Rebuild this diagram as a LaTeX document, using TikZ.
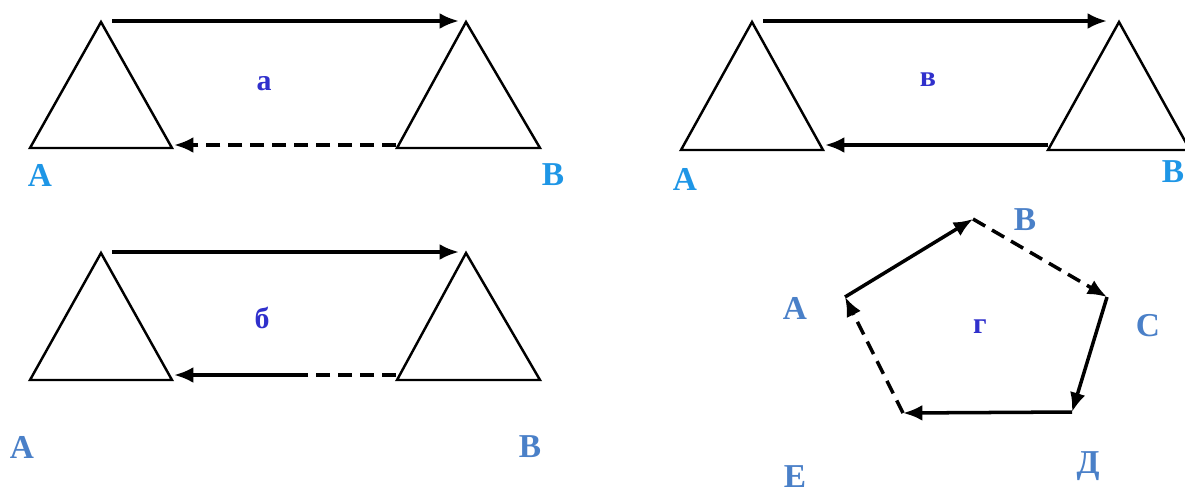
\documentclass[tikz,border=0pt]{standalone}
\usepackage{fontspec}
\setmainfont{Liberation Serif}
\usetikzlibrary{arrows.meta}
\definecolor{skyblue}{HTML}{1E96E6}
\definecolor{steelblue}{HTML}{4A80C8}
\definecolor{centerblue}{HTML}{3030CC}
\tikzset{
  tri/.style={line width=1.4pt, line join=miter},
  vec/.style={line width=2pt, -{Latex[length=11pt,width=9pt]}},
  dvec/.style={vec, dash pattern=on 8pt off 4.5pt},
  lbl/.style={font=\bfseries\fontsize{19}{19}\selectfont},
  midlbl/.style={centerblue, font=\bfseries\fontsize{17}{17}\selectfont}
}
\begin{document}
\begin{tikzpicture}[x=0.02cm, y=-0.02cm]
  \useasboundingbox (0,0) rectangle (1185,495);

  % панель а
  \coordinate (aL1) at (30,148);
  \coordinate (aL2) at (172,148);
  \coordinate (aL3) at (101,22);
  \coordinate (aR1) at (397,148);
  \coordinate (aR2) at (540,148);
  \coordinate (aR3) at (466,22);
  \coordinate (aTs) at (112,21);
  \coordinate (aTe) at (459,21);
  \coordinate (aBs) at (396,145);
  \coordinate (aBe) at (174,145);
  \draw[tri] (aL1) -- (aL2) -- (aL3) -- cycle;
  \draw[tri] (aR1) -- (aR2) -- (aR3) -- cycle;
  \draw[vec] (aTs) -- (aTe);
  \draw[dvec] (aBs) -- (aBe);
  \node[midlbl] (aLbl) at (264,84) {а};
  \node[lbl, skyblue] (aA) at (40,175) {A};
  \node[lbl, skyblue] (aB) at (553,175) {B};

  % панель в
  \coordinate (vL1) at (681,150);
  \coordinate (vL2) at (823,150);
  \coordinate (vL3) at (752,22);
  \coordinate (vR1) at (1048,150);
  \coordinate (vR2) at (1190,150);
  \coordinate (vR3) at (1119,22);
  \coordinate (vTs) at (763,21);
  \coordinate (vTe) at (1107,21);
  \coordinate (vBs) at (1048,145);
  \coordinate (vBe) at (825,145);
  \draw[tri] (vL1) -- (vL2) -- (vL3) -- cycle;
  \draw[tri] (vR1) -- (vR2) -- (vR3) -- cycle;
  \draw[vec] (vTs) -- (vTe);
  \draw[vec] (vBs) -- (vBe);
  \node[midlbl] (vLbl) at (928,80) {в};
  \node[lbl, skyblue] (vA) at (685,179) {A};
  \node[lbl, skyblue] (vB) at (1173,172) {B};

  % панель б
  \coordinate (bL1) at (30,380);
  \coordinate (bL2) at (172,380);
  \coordinate (bL3) at (101,253);
  \coordinate (bR1) at (397,380);
  \coordinate (bR2) at (540,380);
  \coordinate (bR3) at (466,253);
  \coordinate (bTs) at (112,252);
  \coordinate (bTe) at (459,252);
  \coordinate (bBs) at (396,375);
  \coordinate (bBm) at (295,375);
  \coordinate (bBe) at (174,375);
  \draw[tri] (bL1) -- (bL2) -- (bL3) -- cycle;
  \draw[tri] (bR1) -- (bR2) -- (bR3) -- cycle;
  \draw[vec] (bTs) -- (bTe);
  \draw[line width=2pt, dash pattern=on 8pt off 4.5pt] (bBs) -- (bBm);
  \draw[vec] (bBm) -- (bBe);
  \node[midlbl] (bLbl) at (262,318) {б};
  \node[lbl, steelblue] (bA) at (22,447) {A};
  \node[lbl, steelblue] (bB) at (530,447) {B};

  % панель г
  \coordinate (gA) at (845,297);
  \coordinate (gB) at (973,219);
  \coordinate (gC) at (1107,297);
  \coordinate (gD) at (1072,412);
  \coordinate (gE) at (903,413);
  \draw[vec] (gA) -- (gB);
  \draw[dvec] (gB) -- (gC);
  \draw[vec] (gC) -- (gD);
  \draw[vec] (gD) -- (gE);
  \draw[dvec] (gE) -- (gA);
  \node[midlbl] (gLbl) at (980,327) {г};
  \node[lbl, steelblue] (gAl) at (795,308) {A};
  \node[lbl, steelblue] (gBl) at (1025,220) {B};
  \node[lbl, steelblue] (gCl) at (1148,326) {C};
  \node[lbl, steelblue] (gDl) at (1088,466) {Д};
  \node[lbl, steelblue] (gEl) at (795,477) {E};
\end{tikzpicture}
\end{document}
